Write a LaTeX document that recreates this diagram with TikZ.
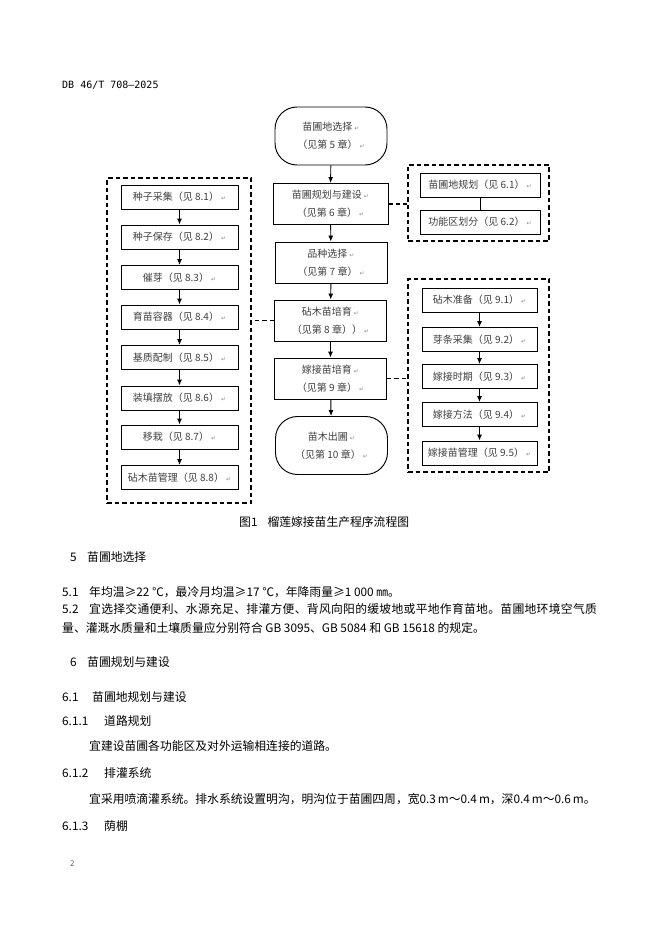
\documentclass[tikz,border=0pt]{standalone}
\usepackage{fontspec}
\setmainfont{Noto Sans CJK SC}
\newfontfamily\hdrfont{DejaVu Sans Mono}
\newfontfamily\symfont{DejaVu Sans}
\newfontfamily\spacedfont[LetterSpace=2.5]{Noto Sans CJK SC}
\usetikzlibrary{arrows.meta}
\newcommand\pmk{\hspace{2pt}{\symfont\fontsize{6}{6}\selectfont\color{black!45}↵}}
\tikzset{
  fbox/.style={draw, line width=0.95pt, minimum width=117pt, minimum height=24pt, inner sep=0pt,
    font=\fontsize{10}{12}\selectfont, text=black!75},
  mbox/.style={draw, line width=0.95pt, minimum width=112pt, minimum height=41pt, inner sep=0pt,
    align=center, font=\fontsize{10}{18}\selectfont, text=black!75},
  termbox/.style={mbox, rounded corners=22pt, minimum height=58pt},
  grp/.style={draw, line width=1.2pt, dash pattern=on 4.5pt off 3pt, inner sep=0pt},
  arr/.style={-{Latex[length=6pt,width=5pt]}, line width=0.95pt},
  lnk/.style={line width=1.1pt, dash pattern=on 4.5pt off 3pt},
  txt/.style={anchor=base west, inner sep=0pt, font=\fontsize{11.8}{14}\selectfont},
}
\begin{document}
\begin{tikzpicture}[x=1pt, y=-1pt]
\useasboundingbox[fill=white] (0,0) rectangle (662,936);

% header
\node[anchor=base west, inner sep=0pt, font=\hdrfont\fontsize{10}{12}\selectfont] (hdr) at (62,89) {DB 46/T 708—2025};

% dashed groups
\node[grp, minimum width=144pt, minimum height=325pt] (L) at (179,340.5) {};
\node[grp, minimum width=141pt, minimum height=76pt] (TR) at (478.5,203) {};
\node[grp, minimum width=141pt, minimum height=193pt] (BR) at (478.5,375.5) {};

% left column
\node[fbox] (l1) at (179.5,197) {种子采集（见 8.1）\pmk};
\node[fbox] (l2) at (179.5,237) {种子保存（见 8.2）\pmk};
\node[fbox] (l3) at (179.5,277.5) {催芽（见 8.3）\pmk};
\node[fbox] (l4) at (179.5,317) {育苗容器（见 8.4）\pmk};
\node[fbox] (l5) at (179.5,357.5) {基质配制（见 8.5）\pmk};
\node[fbox] (l6) at (179.5,398) {装填摆放（见 8.6）\pmk};
\node[fbox] (l7) at (179.5,437) {移栽（见 8.7）\pmk};
\node[fbox] (l8) at (179.5,477.5) {砧木苗管理（见 8.8）\pmk};
\foreach \a/\b in {l1/l2,l2/l3,l3/l4,l4/l5,l5/l6,l6/l7,l7/l8}
  \draw[arr] (\a) -- (\b);

% middle column
\node[termbox] (m1) at (331,136) {苗圃地选择\pmk\\（见第 5 章）\pmk};
\node[mbox, minimum width=115pt] (m2) at (330.5,204) {苗圃规划与建设\pmk\\（见第 6 章）\pmk};
\node[mbox] (m3) at (331,262.5) {品种选择\pmk\\（见第 7 章）\pmk};
\node[mbox] (m4) at (330.5,320.5) {砧木苗培育\pmk\\（见第 8 章））\pmk};
\node[mbox] (m5) at (330.5,378.5) {嫁接苗培育\pmk\\（见第 9 章）\pmk};
\node[termbox] (m6) at (331.5,445.5) {苗木出圃\pmk\\（见第 10 章）\pmk};
\foreach \a/\b in {m1/m2,m2/m3,m3/m4,m4/m5,m5/m6}
  \draw[arr] (\a) -- (\b);

% top right
\node[fbox, minimum width=120pt] (t1) at (480,185) {苗圃地规划（见 6.1）\pmk};
\node[fbox, minimum width=120pt] (t2) at (480,222) {功能区划分（见 6.2）\pmk};
\draw[line width=0.95pt] (t1) -- (t2);

% bottom right
\node[fbox, minimum width=115pt] (r1) at (479.5,300) {砧木准备（见 9.1）\pmk};
\node[fbox, minimum width=115pt] (r2) at (479.5,339.5) {芽条采集（见 9.2）\pmk};
\node[fbox, minimum width=115pt] (r3) at (479.5,376.5) {嫁接时期（见 9.3）\pmk};
\node[fbox, minimum width=115pt] (r4) at (479.5,414.5) {嫁接方法（见 9.4）\pmk};
\node[fbox, minimum width=115pt] (r5) at (479.5,453) {嫁接苗管理（见 9.5）\pmk};
\foreach \a/\b in {r1/r2,r2/r3,r3/r4,r4/r5}
  \draw[arr] (\a) -- (\b);

% dashed links
\draw[lnk] (m4.west) -- (m4.west -| L.east);
\draw[lnk] (m2.east) -- (m2.east -| TR.west);
\draw[lnk] (m5.east) -- (m5.east -| BR.west);

% caption
\node[txt] (cap) at (239,526.5) {图1\hspace{10pt}榴莲嫁接苗生产程序流程图};

% body text
\node[txt] (h5n) at (70,561.5) {5};
\node[txt] (h5) at (87,561.5) {苗圃地选择};
\node[txt] (p51n) at (62,596.5) {5.1};
\node[txt] (p51) at (89,596.5) {年均温≥22 ℃，最冷月均温≥17 ℃，年降雨量≥1 000 ㎜。};
\node[txt] (p52n) at (62,613.5) {5.2};
\node[txt, font=\spacedfont\fontsize{11.8}{14}\selectfont] (p52) at (89,613.5) {宜选择交通便利、水源充足、排灌方便、背风向阳的缓坡地或平地作育苗地。苗圃地环境空气质};
\node[txt] (p52b) at (62,632) {量、灌溉水质量和土壤质量应分别符合 GB 3095、GB 5084 和 GB 15618 的规定。};
\node[txt] (h6n) at (70,666.5) {6};
\node[txt] (h6) at (87,666.5) {苗圃规划与建设};
\node[txt] (h61n) at (62,701.5) {6.1};
\node[txt] (h61) at (92,701.5) {苗圃地规划与建设};
\node[txt] (h611n) at (62,725.5) {6.1.1};
\node[txt] (h611) at (104,725.5) {道路规划};
\node[txt] (p611) at (89,750.5) {宜建设苗圃各功能区及对外运输相连接的道路。};
\node[txt] (h612n) at (62,777.5) {6.1.2};
\node[txt] (h612) at (104,777.5) {排灌系统};
\node[txt] (p612) at (89,803.5) {宜采用喷滴灌系统。排水系统设置明沟，明沟位于苗圃四周，宽0.3\,m～0.4\,m，深0.4\,m～0.6\,m。};
\node[txt] (h613n) at (62,830.5) {6.1.3};
\node[txt] (h613) at (104,830.5) {荫棚};

% page number
\node[anchor=base west, inner sep=0pt, font=\fontsize{8}{10}\selectfont, text=black!60] (pg) at (70,866) {2};
\end{tikzpicture}
\end{document}
